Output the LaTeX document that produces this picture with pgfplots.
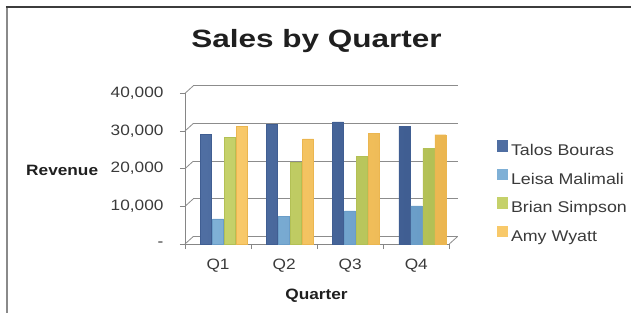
\documentclass[border=0pt]{standalone}
\usepackage{pgfplots}
\pgfplotsset{compat=1.18}
\usepackage{fontspec}
\setmainfont[FakeStretch=1.15]{Liberation Sans}
\newfontfamily\titlefont[FakeStretch=1.26]{Liberation Sans}
\definecolor{tb}{HTML}{4F6EA2}\definecolor{tbd}{HTML}{405E92}\definecolor{tbl}{HTML}{6386BC}
\definecolor{lm}{HTML}{7FB0D6}\definecolor{lmd}{HTML}{6A9DC8}\definecolor{lml}{HTML}{9AC4E2}
\definecolor{bs}{HTML}{C5D16A}\definecolor{bsd}{HTML}{B3C055}\definecolor{bsl}{HTML}{DAE38A}
\definecolor{aw}{HTML}{F8C96A}\definecolor{awd}{HTML}{EBB650}\definecolor{awl}{HTML}{FDDB8E}
\definecolor{gridgray}{HTML}{8C8C8C}
\definecolor{axisgray}{HTML}{868686}
\definecolor{labelgray}{HTML}{3A3A3A}
\definecolor{frameT}{HTML}{3C3C3C}
\definecolor{frameL}{HTML}{8A8A8A}

\pgfplotstableread{
x   talos  leisa  brian  amy
0   29100  6700   28300  31300
1   31800  7400   21700  27900
2   32400  8800   23200  29300
3   31200  10150  25350  29000
}\sales

\newcommand\legsq[1]{\pgfsetfillcolor{#1}\pgfpathrectangle{\pgfpointorigin}{\pgfpoint{11.3pt}{11.5pt}}\pgfusepath{fill}\path (14pt,0pt);}

\begin{document}
\begin{tikzpicture}[x=1pt,y=1pt]
\begin{axis}[
  name=ax,
  scale only axis, width=264.3pt, height=150.7pt,
  xmin=-0.5, xmax=3.5, ymin=0, ymax=40000,
  clip=false,
  axis lines*=left,
  axis line style={draw=axisgray, line width=0.8pt},
  scaled y ticks=false,
  ytick={0,10000,20000,30000,40000},
  yticklabels={-,{10,000},{20,000},{30,000},{40,000}},
  xtick={0,1,2,3}, xticklabels={Q1,Q2,Q3,Q4},
  major x tick style={draw=none},
  minor xtick={-0.5,0.5,1.5,2.5,3.5},
  major tick length=5pt, minor tick length=5pt,
  tick align=outside,
  tick style={draw=axisgray, line width=0.8pt},
  ymajorgrids,
  major grid style={draw=gridgray, line width=0.8pt, xshift=8.3pt, yshift=7.5pt},
  ticklabel style={font=\fontsize{15}{18}\selectfont, text=labelgray},
  yticklabel style={xshift=-13pt},
  xticklabel style={yshift=-6pt},
  /pgf/number format/assume math mode=true,
  ybar, bar width=11pt,
  legend style={at={(1.179,0.3394)}, anchor=west, draw=none, fill=none,
    font=\fontsize{15.5}{18}\selectfont, text=labelgray, inner sep=0pt,
    row sep=9pt,
    nodes={text height=12pt, text depth=4pt, inner sep=0pt}},
  legend cell align=left,
]
\addplot[bar shift=-12pt, draw=tbd, line width=0.4pt, left color=tb, middle color=tbl, right color=tbd,
  legend image code/.code={\legsq{tb}}]
  table[x=x,y=talos]{\sales};
\addplot[bar shift=0pt, draw=lmd, line width=0.4pt, left color=lm, middle color=lml, right color=lmd,
  legend image code/.code={\legsq{lm}}]
  table[x=x,y=leisa]{\sales};
\addplot[bar shift=12pt, draw=bsd, line width=0.4pt, left color=bs, middle color=bsl, right color=bsd,
  legend image code/.code={\legsq{bs}}]
  table[x=x,y=brian]{\sales};
\addplot[bar shift=24pt, draw=awd, line width=0.4pt, left color=aw, middle color=awl, right color=awd,
  legend image code/.code={\legsq{aw}}]
  table[x=x,y=amy]{\sales};
\legend{Talos Bouras, Leisa Malimali, Brian Simpson, Amy Wyatt}
\pgfplotsinvokeforeach{0,10000,20000,30000,40000}{
  \draw[gridgray, line width=0.8pt] (axis cs:-0.5,#1) -- ++(8.3pt,7.5pt);
}
\draw[gridgray, line width=0.8pt] (axis cs:3.5,0) -- ++(8.3pt,7.5pt);
\coordinate (O) at (rel axis cs:0,0);
\end{axis}
\begin{scope}[shift={(O)}, shift={(-185pt,-69pt)}]
\pgfresetboundingbox
\useasboundingbox (0,0) rectangle (631,313);
\draw[frameL, line width=2pt] (7,306) -- (7,0);
\draw[frameT, line width=2pt] (6,306) -- (631,306);
\node[font=\titlefont\fontsize{25}{30}\selectfont\bfseries, text=black!88, anchor=base] at (316.5,265.5) {Sales by Quarter};
\node[font=\fontsize{15}{18}\selectfont\bfseries, text=black!88, anchor=base west] at (22.7,137.5) {Revenue};
\node[font=\fontsize{15}{18}\selectfont\bfseries, text=black!88, anchor=base] at (316.5,14) {Quarter};
\end{scope}
\end{tikzpicture}
\end{document}
